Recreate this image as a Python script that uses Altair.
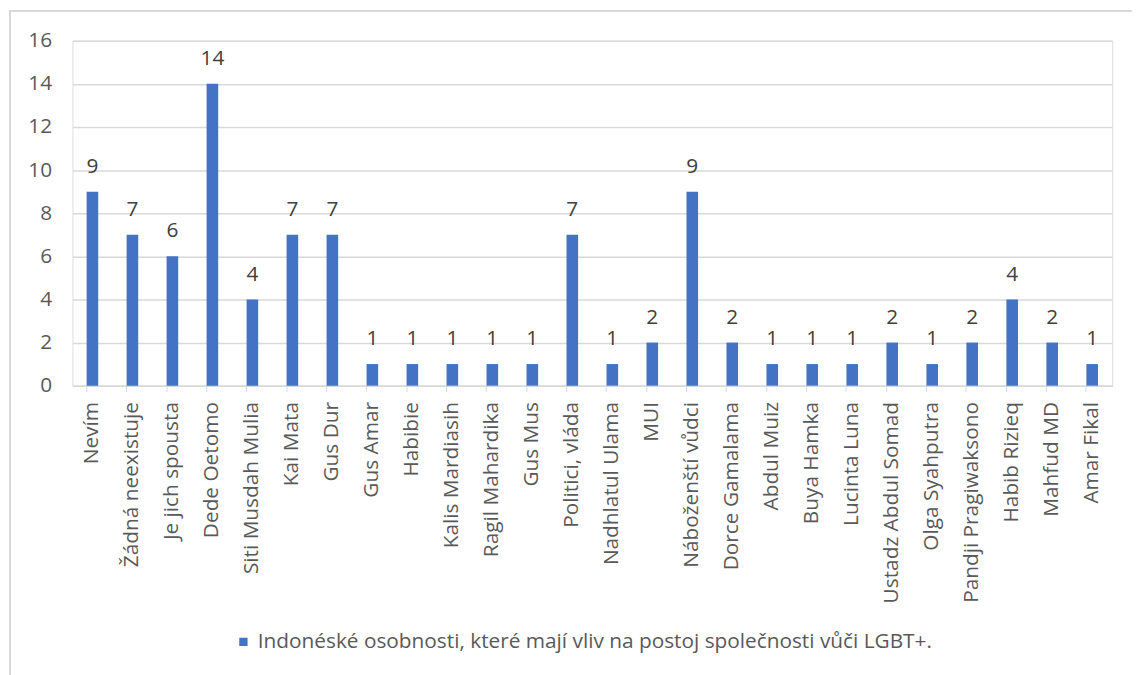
import altair as alt
import pandas as pd

categories = [
    "Nevím", "Žádná neexistuje", "Je jich spousta", "Dede Oetomo", "Siti Musdah Mulia",
    "Kai Mata", "Gus Dur", "Gus Amar", "Habibie", "Kalis Mardiasih",
    "Ragil Mahardika", "Gus Mus", "Politici, vláda", "Nadhlatul Ulama", "MUI",
    "Náboženští vůdci", "Dorce Gamalama", "Abdul Muiz", "Buya Hamka", "Lucinta Luna",
    "Ustadz Abdul Somad", "Olga Syahputra", "Pandji Pragiwaksono", "Habib Rizieq", "Mahfud MD",
    "Amar Fikal",
]
values = [9, 7, 6, 14, 4, 7, 7, 1, 1, 1, 1, 1, 7, 1, 2, 9, 2, 1, 1, 1, 2, 1, 2, 4, 2, 1]
series_name = "Indonéské osobnosti, které mají vliv na postoj společnosti vůči LGBT+."

df = pd.DataFrame({"cat": categories, "val": values, "series": series_name})

FONT = "Open Sans"
BLUE = "#4472C4"
FS = 21

x_enc = alt.X(
    "cat:N", sort=categories, title=None,
    scale=alt.Scale(paddingInner=0.71, paddingOuter=0.355),
    axis=alt.Axis(labelAngle=-90, labelFontSize=FS, labelColor="#595959", labelFont=FONT,
                  tickColor="#d9d9d9", domainColor="#d9d9d9", tickSize=6, bandPosition=0,
                  labelPadding=10, labelLimit=400),
)
y_enc = alt.Y(
    "val:Q", title=None,
    scale=alt.Scale(domain=[0, 16]),
    axis=alt.Axis(values=list(range(0, 17, 2)), labelFontSize=FS, labelColor="#595959",
                  labelFont=FONT, domain=False, ticks=False, gridColor="#d9d9d9",
                  gridWidth=1.5, labelPadding=21),
)

bars = alt.Chart(df).mark_bar(color=BLUE).encode(
    x=x_enc, y=y_enc,
    color=alt.Color("series:N", scale=alt.Scale(range=[BLUE]), title=None,
                    legend=alt.Legend(orient="none", legendX=162, legendY=596,
                                      symbolType="square", symbolSize=70,
                                      labelFontSize=FS, labelFont=FONT, labelColor="#595959",
                                      labelLimit=900, symbolStrokeWidth=0, labelOffset=4)),
)

labels = alt.Chart(df).mark_text(
    baseline="middle", dy=-25, fontSize=FS, font=FONT, color="#404040"
).encode(x=alt.X("cat:N", sort=categories), y="val:Q", text="val:Q")

border = alt.Chart(df).mark_rect(fill=None, stroke="#d9d9d9", strokeWidth=1.5).encode(
    x=alt.value(-63), x2=alt.value(1200), y=alt.value(-30), y2=alt.value(700)
)

chart = alt.layer(border, bars, labels).properties(
    width=1049, height=348,
    autosize=alt.AutoSizeParams(type="none"),
    padding={"left": 65, "top": 30, "right": 20, "bottom": 300},
).configure_view(stroke=None).configure(background="white")

chart.save("out.html", embed_options={"renderer": "svg", "actions": False})
